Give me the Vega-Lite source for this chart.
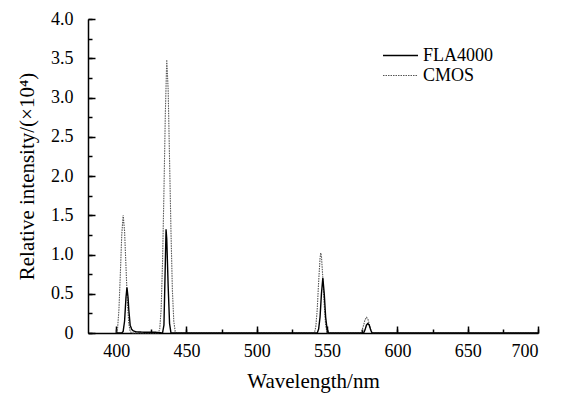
{
  "$schema": "https://vega.github.io/schema/vega-lite/v6.json",
  "width": 450,
  "height": 314,
  "autosize": "none",
  "padding": {"left": 88, "top": 19, "right": 26, "bottom": 63},
  "background": "white",
  "config": {
    "view": {"stroke": null},
    "font": "Liberation Serif, Times New Roman, serif",
    "axis": {
      "grid": false,
      "domainColor": "black",
      "domainWidth": 1.5,
      "tickColor": "black",
      "tickWidth": 1.5,
      "labelFont": "Liberation Serif, Times New Roman, serif",
      "titleFont": "Liberation Serif, Times New Roman, serif",
      "labelFontSize": 18,
      "titleFontSize": 21,
      "titleFontWeight": "normal",
      "labelColor": "black",
      "titleColor": "black"
    },
    "legend": {
      "labelFont": "Liberation Serif, Times New Roman, serif"
    }
  },
  "data": {
    "values": [
      {"wl": 400, "v": 0, "s": "CMOS"},
      {"wl": 401, "v": 0.05, "s": "CMOS"},
      {"wl": 402, "v": 0.3, "s": "CMOS"},
      {"wl": 403, "v": 0.75, "s": "CMOS"},
      {"wl": 404, "v": 1.25, "s": "CMOS"},
      {"wl": 405, "v": 1.5, "s": "CMOS"},
      {"wl": 406, "v": 1.3, "s": "CMOS"},
      {"wl": 407, "v": 0.85, "s": "CMOS"},
      {"wl": 408, "v": 0.4, "s": "CMOS"},
      {"wl": 409, "v": 0.12, "s": "CMOS"},
      {"wl": 410, "v": 0.02, "s": "CMOS"},
      {"wl": 411, "v": 0, "s": "CMOS"},
      {"wl": 430, "v": 0, "s": "CMOS"},
      {"wl": 431, "v": 0.05, "s": "CMOS"},
      {"wl": 432, "v": 0.3, "s": "CMOS"},
      {"wl": 433, "v": 0.9, "s": "CMOS"},
      {"wl": 434, "v": 1.8, "s": "CMOS"},
      {"wl": 435, "v": 2.8, "s": "CMOS"},
      {"wl": 436, "v": 3.48, "s": "CMOS"},
      {"wl": 437, "v": 3.1, "s": "CMOS"},
      {"wl": 438, "v": 2.2, "s": "CMOS"},
      {"wl": 439, "v": 1.3, "s": "CMOS"},
      {"wl": 440, "v": 0.55, "s": "CMOS"},
      {"wl": 441, "v": 0.15, "s": "CMOS"},
      {"wl": 442, "v": 0.02, "s": "CMOS"},
      {"wl": 443, "v": 0, "s": "CMOS"},
      {"wl": 541, "v": 0, "s": "CMOS"},
      {"wl": 542, "v": 0.08, "s": "CMOS"},
      {"wl": 543, "v": 0.3, "s": "CMOS"},
      {"wl": 544, "v": 0.65, "s": "CMOS"},
      {"wl": 545, "v": 0.95, "s": "CMOS"},
      {"wl": 545.5, "v": 1.02, "s": "CMOS"},
      {"wl": 546, "v": 0.98, "s": "CMOS"},
      {"wl": 547, "v": 0.7, "s": "CMOS"},
      {"wl": 548, "v": 0.35, "s": "CMOS"},
      {"wl": 549, "v": 0.1, "s": "CMOS"},
      {"wl": 550, "v": 0, "s": "CMOS"},
      {"wl": 574, "v": 0, "s": "CMOS"},
      {"wl": 575, "v": 0.04, "s": "CMOS"},
      {"wl": 576, "v": 0.1, "s": "CMOS"},
      {"wl": 577, "v": 0.17, "s": "CMOS"},
      {"wl": 578, "v": 0.2, "s": "CMOS"},
      {"wl": 579, "v": 0.18, "s": "CMOS"},
      {"wl": 580, "v": 0.11, "s": "CMOS"},
      {"wl": 581, "v": 0.04, "s": "CMOS"},
      {"wl": 582, "v": 0, "s": "CMOS"},
      {"wl": 700, "v": 0, "s": "CMOS"},
      {"wl": 400, "v": 0, "s": "FLA4000"},
      {"wl": 404, "v": 0, "s": "FLA4000"},
      {"wl": 405, "v": 0.02, "s": "FLA4000"},
      {"wl": 406, "v": 0.15, "s": "FLA4000"},
      {"wl": 407, "v": 0.45, "s": "FLA4000"},
      {"wl": 407.7, "v": 0.58, "s": "FLA4000"},
      {"wl": 408.5, "v": 0.45, "s": "FLA4000"},
      {"wl": 409, "v": 0.3, "s": "FLA4000"},
      {"wl": 410, "v": 0.1, "s": "FLA4000"},
      {"wl": 411, "v": 0.05, "s": "FLA4000"},
      {"wl": 412, "v": 0.03, "s": "FLA4000"},
      {"wl": 414, "v": 0.015, "s": "FLA4000"},
      {"wl": 420, "v": 0.01, "s": "FLA4000"},
      {"wl": 428, "v": 0.01, "s": "FLA4000"},
      {"wl": 433, "v": 0, "s": "FLA4000"},
      {"wl": 434, "v": 0.1, "s": "FLA4000"},
      {"wl": 435, "v": 0.9, "s": "FLA4000"},
      {"wl": 435.5, "v": 1.32, "s": "FLA4000"},
      {"wl": 436, "v": 1.2, "s": "FLA4000"},
      {"wl": 437, "v": 0.6, "s": "FLA4000"},
      {"wl": 438, "v": 0.12, "s": "FLA4000"},
      {"wl": 439, "v": 0, "s": "FLA4000"},
      {"wl": 543, "v": 0, "s": "FLA4000"},
      {"wl": 544, "v": 0.05, "s": "FLA4000"},
      {"wl": 545, "v": 0.2, "s": "FLA4000"},
      {"wl": 546, "v": 0.5, "s": "FLA4000"},
      {"wl": 547, "v": 0.7, "s": "FLA4000"},
      {"wl": 548, "v": 0.5, "s": "FLA4000"},
      {"wl": 549, "v": 0.2, "s": "FLA4000"},
      {"wl": 550, "v": 0.05, "s": "FLA4000"},
      {"wl": 551, "v": 0, "s": "FLA4000"},
      {"wl": 576, "v": 0, "s": "FLA4000"},
      {"wl": 577, "v": 0.04, "s": "FLA4000"},
      {"wl": 578, "v": 0.1, "s": "FLA4000"},
      {"wl": 579, "v": 0.12, "s": "FLA4000"},
      {"wl": 580, "v": 0.1, "s": "FLA4000"},
      {"wl": 581, "v": 0.04, "s": "FLA4000"},
      {"wl": 582, "v": 0, "s": "FLA4000"},
      {"wl": 700, "v": 0, "s": "FLA4000"}
    ]
  },
  "resolve": {"axis": {"x": "independent", "y": "independent"}},
  "layer": [
    {
      "mark": {"type": "line", "opacity": 0},
      "encoding": {
        "x": {"field": "wl", "type": "quantitative", "scale": {"domain": [380, 700], "nice": false, "zero": false},
              "axis": {"orient": "bottom", "values": [400, 425, 450, 475, 500, 525, 550, 575, 600, 625, 650, 675, 700], "labels": false, "tickSize": -4, "domain": false, "title": null}},
        "y": {"field": "v", "type": "quantitative", "scale": {"domain": [0, 4], "nice": false},
              "axis": {"orient": "left", "values": [0, 0.25, 0.5, 0.75, 1, 1.25, 1.5, 1.75, 2, 2.25, 2.5, 2.75, 3, 3.25, 3.5, 3.75, 4], "labels": false, "tickSize": -4, "domain": false, "title": null}},
        "detail": {"field": "s"}
      }
    },
    {
      "mark": {"type": "line", "interpolate": "linear"},
      "encoding": {
        "x": {"field": "wl", "type": "quantitative",
              "axis": {"orient": "bottom", "values": [400, 450, 500, 550, 600, 650, 700], "tickSize": -7, "labelPadding": 16, "title": "Wavelength/nm", "titlePadding": 10}},
        "y": {"field": "v", "type": "quantitative",
              "axis": {"orient": "left", "values": [0, 0.5, 1, 1.5, 2, 2.5, 3, 3.5, 4], "tickSize": -7, "labelPadding": 22,
                       "labelExpr": "datum.value == 0 ? '0' : format(datum.value, '.1f')",
                       "title": "Relative intensity/(×10⁴)", "titlePadding": 13}},
        "color": {"field": "s", "type": "nominal", "sort": ["FLA4000", "CMOS"],
                  "scale": {"domain": ["FLA4000", "CMOS"], "range": ["#000000", "#555555"]},
                  "legend": {"title": null, "orient": "none", "legendX": 303, "legendY": 27, "symbolType": "M-2,0H2",
                             "symbolSize": 306, "symbolStrokeWidth": 1.2, "symbolFillColor": "transparent", "labelFontSize": 18,
                             "labelColor": "black", "rowPadding": 1, "labelOffset": 13, "padding": 0}},
        "strokeDash": {"field": "s", "type": "nominal", "sort": ["FLA4000", "CMOS"],
                       "scale": {"domain": ["FLA4000", "CMOS"], "range": [[1, 0], [1.5, 1]]}},
        "strokeWidth": {"field": "s", "type": "nominal",
                        "scale": {"domain": ["FLA4000", "CMOS"], "range": [1.4, 1.1]}, "legend": null}
      }
    }
  ]
}
